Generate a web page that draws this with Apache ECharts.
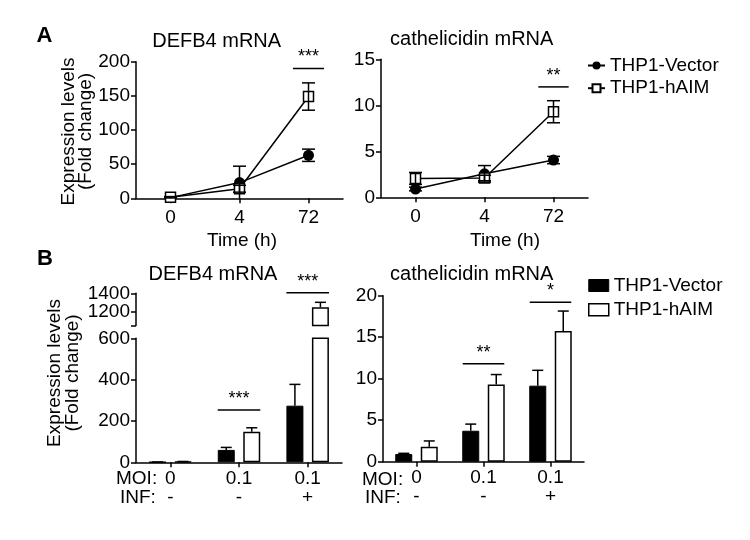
<!DOCTYPE html>
<html><head><meta charset="utf-8">
<script src="https://cdn.jsdelivr.net/npm/echarts@6/dist/echarts.min.js"></script>
<style>html,body{margin:0;padding:0;background:#fff}#c{width:750px;height:540px}</style>
</head><body><div id="c"></div>
<script>
// ---- data ----
const timeCats = ['0', '4', '72'];
const defbVecA = [1, 23, 63];
const defbVecAErr = [1, 24, 9];
const defbAimA = [1.5, 14, 149];
const defbAimAErr = [1, 5, 20];
const camVecA = [0.9, 2.55, 4.05];
const camVecAErr = [0.2, 0.9, 0.4];
const camAimA = [2.05, 2.1, 9.3];
const camAimAErr = [0.65, 0.3, 1.2];

const infCats = ['0\n-', '0.1\n-', '0.1\n+'];
const defbVecB = [1, 60, 274];
const defbVecBErr = [0.5, 12, 103];
const defbAimB = [3, 148, 1248];
const defbAimBErr = [1, 19, 54];
const camVecB = [0.93, 3.73, 9.16];
const camVecBErr = [0.08, 0.8, 1.85];
const camAimB = [1.8, 9.3, 15.75];
const camAimBErr = [0.7, 1.2, 2.4];

const sigDefbA = [[2, 190, '***']];
const sigCamA = [[2, 12, '**']];
const sigDefbBLow = [[1, 253, '***']];
const sigDefbBHigh = [[2, 1406, '***']];
const sigCamB = [[1, 11.8, '**'], [2, 19.2, '*']];

const yTicksA1 = [0, 200, 50];
const yTicksA2 = [0, 15, 5];
const yTicksBUpper = [1200, 1400];
const yBreakUpper = [1050, 1400];
const yTicksBLower = [0, 600, 200];
const yTicksB2 = [0, 20, 5];

// ---- helpers ----
const FF = '"Liberation Sans", Arial, sans-serif';
const BLK = '#000';

function xAx(gi, cats, show, fs, margin, lh) {
  return {
    type: 'category', gridIndex: gi, data: cats, boundaryGap: true,
    show: show,
    axisLine: { show: true, lineStyle: { color: BLK, width: 1.5 } },
    axisTick: { show: true, alignWithLabel: true, length: 5, lineStyle: { color: BLK, width: 1.5 } },
    axisLabel: { color: BLK, fontSize: fs, fontFamily: FF, margin: margin, lineHeight: lh }
  };
}
function yAx(gi, min, max, interval) {
  return {
    type: 'value', gridIndex: gi, min: min, max: max, interval: interval, position: 'left', offset: 0,
    splitLine: { show: false },
    axisLine: { show: true, lineStyle: { color: BLK, width: 1.5 } },
    axisTick: { show: true, length: 5, lineStyle: { color: BLK, width: 1.5 } },
    axisLabel: { color: BLK, fontSize: 19, fontFamily: FF, margin: 6, formatter: v => String(v) }
  };
}
function errSeries(ai, vals, errs, off, both, lo, hi, cw) {
  const data = [];
  vals.forEach((v, i) => { if (v >= lo && v + errs[i] <= hi) data.push([i, v, errs[i]]); });
  return {
    type: 'custom', xAxisIndex: ai, yAxisIndex: ai, silent: true, z: 5, data: data,
    renderItem(params, api) {
      const i = api.value(0), v = api.value(1), e = api.value(2);
      const t = api.coord([i, v + e]);
      const m = api.coord([i, v]);
      const b = api.coord([i, Math.max(v - e, lo)]);
      const x = t[0] + off;
      const st = { stroke: BLK, lineWidth: 1.5 };
      const ch = [
        { type: 'line', shape: { x1: x, y1: both ? b[1] : m[1], x2: x, y2: t[1] }, style: st },
        { type: 'line', shape: { x1: x - cw, y1: t[1], x2: x + cw, y2: t[1] }, style: st }
      ];
      if (both && v - e > lo) ch.push({ type: 'line', shape: { x1: x - cw, y1: b[1], x2: x + cw, y2: b[1] }, style: st });
      return { type: 'group', children: ch };
    }
  };
}
function sigSeries(ai, items, half) {
  return {
    type: 'custom', xAxisIndex: ai, yAxisIndex: ai, silent: true, z: 6,
    data: items.map(d => [d[0], d[1]]),
    renderItem(params, api) {
      const c = api.coord([api.value(0), api.value(1)]);
      const bw = api.size([1, 0])[0];
      const h = bw * half;
      const txt = items[params.dataIndex][2];
      return {
        type: 'group', children: [
          { type: 'line', shape: { x1: c[0] - h, y1: c[1], x2: c[0] + h, y2: c[1] }, style: { stroke: BLK, lineWidth: 1.5 } },
          { type: 'text', x: c[0], y: c[1] - 2, style: { text: txt, fill: BLK, font: '18px ' + FF, align: 'center', verticalAlign: 'bottom' } }
        ]
      };
    }
  };
}
const vecLine = (ai, d) => ({
  type: 'line', name: 'THP1-Vector', xAxisIndex: ai, yAxisIndex: ai, data: d, z: 4,
  symbol: 'circle', symbolSize: 11, showAllSymbol: true,
  itemStyle: { color: BLK }, lineStyle: { color: BLK, width: 1.5 }
});
const aimLine = (ai, d) => ({
  type: 'line', name: 'THP1-hAIM', xAxisIndex: ai, yAxisIndex: ai, data: d, z: 4,
  symbol: 'rect', symbolSize: 10, showAllSymbol: true,
  itemStyle: { color: '#fff', borderColor: BLK, borderWidth: 1.5 }, lineStyle: { color: BLK, width: 1.5 }
});
const BW = 17;
const vecBar = (ai, d) => ({
  type: 'bar', name: 'THP1-Vector', xAxisIndex: ai, yAxisIndex: ai, data: d, z: 2,
  barWidth: BW, barGap: '50%', itemStyle: { color: BLK, borderColor: BLK, borderWidth: 1 }
});
const aimBar = (ai, d) => ({
  type: 'bar', name: 'THP1-hAIM', xAxisIndex: ai, yAxisIndex: ai, data: d, z: 2,
  barWidth: BW, barGap: '50%', itemStyle: { color: '#fff', borderColor: BLK, borderWidth: 1.5 }
});
const OFF = BW / 2 + BW * 0.25;

const txt = (s, x, y, size, align, weight) => ({
  type: 'text', x: x, y: y, silent: true,
  style: { text: s, fill: BLK, font: (weight ? weight + ' ' : '') + size + 'px ' + FF, align: align || 'center', verticalAlign: 'middle' }
});

// upper (broken) segment: axis line + ticks + the top label
const upperY = yAx(2, yBreakUpper[0], yBreakUpper[1], 50);
upperY.axisTick.customValues = [yBreakUpper[0]].concat(yTicksBUpper);
upperY.axisLabel.customValues = [yTicksBUpper[1]];
// second axis on the same grid carrying the other label only
const upperY2 = yAx(2, yBreakUpper[0], yBreakUpper[1], 50);
upperY2.axisLine = { show: false };
upperY2.axisTick = { show: false };
upperY2.axisLabel.customValues = [yTicksBUpper[0]];

const option = {
  animation: false,
  backgroundColor: '#fff',
  grid: [
    { left: 136, top: 61.7, width: 207, height: 136.6 },
    { left: 381, top: 59.3, width: 207, height: 138 },
    { left: 136, top: 293.3, width: 206, height: 32.2 },
    { left: 136, top: 338.3, width: 206, height: 124 },
    { left: 383, top: 295.7, width: 201, height: 166 }
  ],
  xAxis: [
    xAx(0, timeCats, true, 19, 10, 19),
    xAx(1, timeCats, true, 19, 10, 19),
    xAx(2, infCats, false, 19, 7, 19),
    xAx(3, infCats, true, 19, 7, 19),
    xAx(4, infCats, true, 19, 7, 19)
  ],
  yAxis: [
    yAx(0, yTicksA1[0], yTicksA1[1], yTicksA1[2]),
    yAx(1, yTicksA2[0], yTicksA2[1], yTicksA2[2]),
    upperY,
    yAx(3, yTicksBLower[0], yTicksBLower[1], yTicksBLower[2]),
    yAx(4, yTicksB2[0], yTicksB2[1], yTicksB2[2]),
    upperY2
  ],
  legend: [
    {
      orient: 'vertical', left: 587, top: 56, padding: 0, itemWidth: 17, itemHeight: 10, itemGap: 3.7,
      selectedMode: false,
      textStyle: { color: BLK, fontSize: 19, fontFamily: FF, lineHeight: 18 },
      data: ['THP1-Vector', 'THP1-hAIM']
    },
    {
      orient: 'vertical', left: 588, top: 276, padding: 0, itemWidth: 20, itemHeight: 12, itemGap: 5.3,
      selectedMode: false,
      textStyle: { color: BLK, fontSize: 19, fontFamily: FF, lineHeight: 18 },
      data: [
        { name: 'THP1-Vector', icon: 'rect', itemStyle: { color: BLK, borderColor: BLK, borderWidth: 1 } },
        { name: 'THP1-hAIM', icon: 'rect', itemStyle: { color: '#fff', borderColor: BLK, borderWidth: 1.5 } }
      ]
    }
  ],
  series: [
    errSeries(0, defbVecA, defbVecAErr, 0, true, 0, 1e9, 6.5),
    errSeries(0, defbAimA, defbAimAErr, 0, true, 0, 1e9, 6.5),
    vecLine(0, defbVecA), aimLine(0, defbAimA),
    errSeries(1, camVecA, camVecAErr, 0, true, 0, 1e9, 6.5),
    errSeries(1, camAimA, camAimAErr, 0, true, 0, 1e9, 6.5),
    vecLine(1, camVecA), aimLine(1, camAimA),
    sigSeries(0, sigDefbA, 0.225),
    sigSeries(1, sigCamA, 0.22),

    vecBar(2, defbVecB.map(() => '-')),
    aimBar(2, defbAimB.map(v => v >= yBreakUpper[0] ? v : '-')),
    errSeries(2, defbAimB, defbAimBErr, OFF, false, yBreakUpper[0], 1e9, 5.5),
    sigSeries(2, sigDefbBHigh, 0.31),

    vecBar(3, defbVecB), aimBar(3, defbAimB),
    errSeries(3, defbVecB, defbVecBErr, -OFF, false, 0, 600, 5.5),
    errSeries(3, defbAimB, defbAimBErr, OFF, false, 0, 600, 5.5),
    sigSeries(3, sigDefbBLow, 0.31),

    vecBar(4, camVecB), aimBar(4, camAimB),
    errSeries(4, camVecB, camVecBErr, -OFF, false, 0, 100, 5.5),
    errSeries(4, camAimB, camAimBErr, OFF, false, 0, 100, 5.5),
    sigSeries(4, sigCamB, 0.31)
  ],
  graphic: [
    txt('A', 44.5, 36, 22, 'center', 'bold'),
    txt('B', 45, 259, 22, 'center', 'bold'),
    txt('DEFB4 mRNA', 216.7, 41, 20),
    txt('cathelicidin mRNA', 471.7, 39, 20),
    txt('DEFB4 mRNA', 213, 274.5, 20),
    txt('cathelicidin mRNA', 471.7, 274, 20),
    txt('Time (h)', 242, 241, 19),
    txt('Time (h)', 505, 241, 19),
    txt('MOI:', 116, 479, 19, 'left'),
    txt('INF:', 120, 498, 19, 'left'),
    txt('MOI:', 362, 480, 19, 'left'),
    txt('INF:', 365, 498, 19, 'left'),
    { type: 'text', x: 77.5, y: 131.5, rotation: Math.PI / 2, silent: true,
      style: { text: 'Expression levels\n(Fold change)', fill: BLK, font: '19px ' + FF, lineHeight: 17, align: 'center', verticalAlign: 'middle' } },
    { type: 'text', x: 64, y: 373, rotation: Math.PI / 2, silent: true,
      style: { text: 'Expression levels\n(Fold change)', fill: BLK, font: '19px ' + FF, lineHeight: 18.5, align: 'center', verticalAlign: 'middle' } }
  ]
};
const chart = echarts.init(document.getElementById('c'), null, { renderer: 'canvas' });
chart.setOption(option);
</script>
</body></html>
